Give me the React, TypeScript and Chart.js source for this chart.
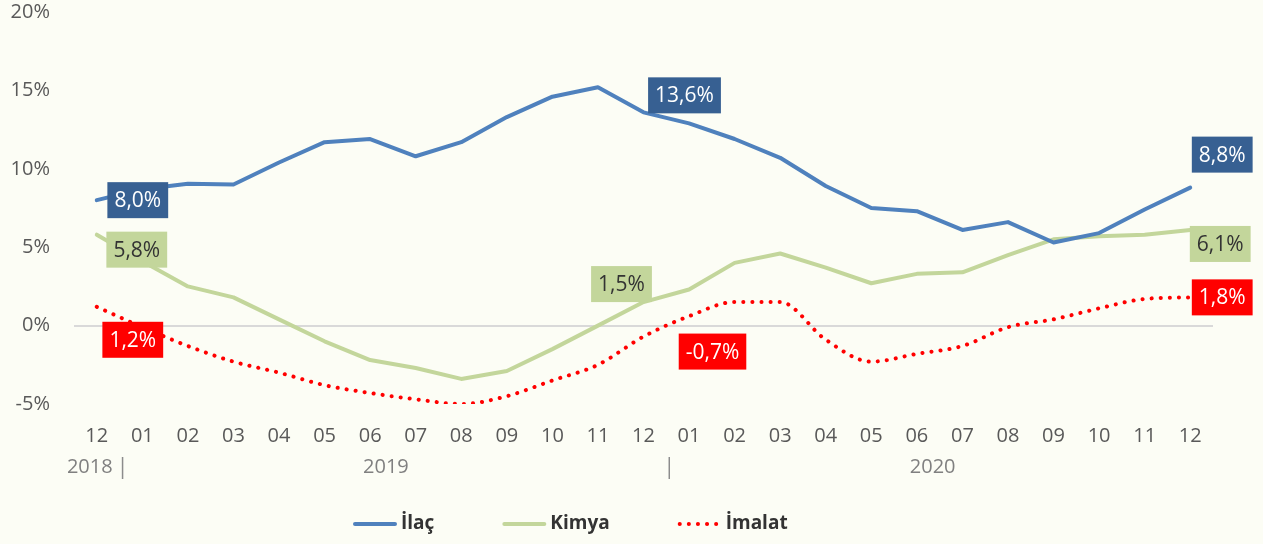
import React, { useEffect, useRef } from "react";
import { Chart, registerables } from "chart.js";

Chart.register(...registerables);

const months = ["12", "01", "02", "03", "04", "05", "06", "07", "08", "09", "10", "11", "12", "01", "02", "03", "04", "05", "06", "07", "08", "09", "10", "11", "12"];
const years = [
  { label: "2018", from: 0, to: 0 },
  { label: "2019", from: 1, to: 12 },
  { label: "2020", from: 13, to: 24 },
];
const ilac = [8.0, 8.7, 9.05, 9.0, 10.4, 11.7, 11.9, 10.8, 11.7, 13.3, 14.6, 15.2, 13.6, 12.9, 11.9, 10.7, 8.9, 7.5, 7.3, 6.1, 6.6, 5.3, 5.9, 7.4, 8.8];
const kimya = [5.8, 4.1, 2.5, 1.8, 0.4, -1.0, -2.2, -2.7, -3.4, -2.9, -1.5, 0.0, 1.5, 2.3, 4.0, 4.6, 3.7, 2.7, 3.3, 3.4, 4.5, 5.5, 5.7, 5.8, 6.1];
const imalat = [1.2, -0.1, -1.3, -2.3, -3.0, -3.8, -4.3, -4.7, -5.0, -4.5, -3.5, -2.5, -0.7, 0.6, 1.5, 1.5, -0.9, -2.3, -1.8, -1.3, -0.1, 0.4, 1.1, 1.7, 1.8];
const yTicks = [-5, 0, 5, 10, 15, 20];

const BG = "#FCFDF5";
const BLUE = "#4F81BD";
const BLUE_BOX = "#376092";
const GREEN = "#C3D69B";
const RED = "#FF0000";
const FONT = "'Open Sans', 'Noto Sans', sans-serif";

// label annotations: dataset index, point index, offset from point, box/text colours
const labelSpecs = [
  { ds: 0, i: 0, dx: 41, dy: 0, bg: BLUE_BOX, fg: "#FFFFFF" },
  { ds: 1, i: 0, dx: 40, dy: 15, bg: GREEN, fg: "#333333" },
  { ds: 2, i: 0, dx: 36, dy: 33, bg: RED, fg: "#FFFFFF" },
  { ds: 0, i: 12, dx: 41, dy: -17, bg: BLUE_BOX, fg: "#FFFFFF" },
  { ds: 1, i: 12, dx: -22, dy: -18, bg: GREEN, fg: "#333333" },
  { ds: 2, i: 12, dx: 69, dy: 15, bg: RED, fg: "#FFFFFF" },
  { ds: 0, i: 24, dx: 32, dy: -33, bg: BLUE_BOX, fg: "#FFFFFF" },
  { ds: 1, i: 24, dx: 30, dy: 14, bg: GREEN, fg: "#333333" },
  { ds: 2, i: 24, dx: 32, dy: 0, bg: RED, fg: "#FFFFFF" },
];

const fmt = (v: number) => v.toFixed(1).replace(".", ",") + "%";

const overlayPlugin = {
  id: "overlay",
  afterDatasetsDraw(chart: any) {
    const ctx = chart.ctx;
    ctx.save();
    ctx.font = `21px ${FONT}`;
    ctx.textAlign = "center";
    ctx.textBaseline = "middle";
    labelSpecs.forEach((s) => {
      const el = chart.getDatasetMeta(s.ds).data[s.i];
      const v = chart.data.datasets[s.ds].data[s.i];
      const txt = fmt(v);
      const w = ctx.measureText(txt).width + 14;
      const h = 36;
      const cx = el.x + s.dx;
      const cy = el.y + s.dy;
      ctx.fillStyle = s.bg;
      ctx.fillRect(cx - w / 2, cy - h / 2, w, h);
      ctx.fillStyle = s.fg;
      ctx.fillText(txt, cx, cy + 1);
    });
    ctx.restore();
  },
  afterDraw(chart: any) {
    const ctx = chart.ctx;
    const xs = chart.scales.x;
    ctx.save();
    // year labels and group separators
    ctx.font = `20px ${FONT}`;
    ctx.fillStyle = "#808080";
    ctx.textAlign = "center";
    ctx.textBaseline = "middle";
    years.forEach((g) => {
      const a = xs.getPixelForValue(g.from);
      const b = xs.getPixelForValue(g.to);
      ctx.fillText(g.label, (a + b) / 2 - 7, 467);
    });
    ctx.strokeStyle = "#8C8C8C";
    ctx.lineWidth = 1.5;
    [0, 12].forEach((i) => {
      const x = (xs.getPixelForValue(i) + xs.getPixelForValue(i + 1)) / 2 + 3;
      ctx.beginPath();
      ctx.moveTo(x, 457);
      ctx.lineTo(x, 479);
      ctx.stroke();
    });
    // legend
    const items = chart.data.datasets;
    ctx.font = `bold 19px ${FONT}`;
    ctx.textAlign = "left";
    let x = 353;
    const y = 524;
    items.forEach((d: any) => {
      ctx.beginPath();
      ctx.strokeStyle = d.borderColor;
      ctx.lineWidth = d.borderWidth;
      ctx.lineCap = "round";
      ctx.setLineDash(d.borderDash || []);
      ctx.moveTo(x + 2, y);
      ctx.lineTo(x + 42, y);
      ctx.stroke();
      ctx.setLineDash([]);
      ctx.fillStyle = "#333333";
      ctx.fillText(d.label, x + 48, y);
      x += 48 + ctx.measureText(d.label).width + 68;
    });
    ctx.restore();
  },
};

export default function App() {
  const ref = useRef<HTMLCanvasElement | null>(null);
  useEffect(() => {
    document.body.style.margin = "0";
    document.body.style.background = BG;
    const chart = new Chart(ref.current as HTMLCanvasElement, {
      type: "line",
      data: {
        labels: months,
        datasets: [
          { label: "İlaç", data: ilac, borderColor: BLUE, borderWidth: 4, pointRadius: 0, tension: 0, borderCapStyle: "round", borderJoinStyle: "round" },
          { label: "Kimya", data: kimya, borderColor: GREEN, borderWidth: 4, pointRadius: 0, tension: 0, borderCapStyle: "round", borderJoinStyle: "round" },
          { label: "İmalat", data: imalat, borderColor: RED, borderWidth: 4, pointRadius: 0, cubicInterpolationMode: "monotone", borderDash: [0.1, 9], borderCapStyle: "round" },
        ] as any,
      },
      options: {
        animation: false,
        responsive: false,
        maintainAspectRatio: false,
        layout: { padding: { top: 12, left: 0, right: 50, bottom: 0 } },
        plugins: { legend: { display: false }, tooltip: { enabled: false } },
        scales: {
          x: {
            offset: true,
            grid: { display: false, drawTicks: false },
            border: { display: false },
            ticks: { color: "#595959", font: { family: FONT, size: 20 }, padding: 20, maxRotation: 0, autoSkip: false },
            afterFit: (s: any) => { s.height = 140; s.paddingLeft = 0; s.paddingRight = 0; },
          },
          y: {
            min: -5,
            max: 20,
            afterBuildTicks: (s: any) => { s.ticks = yTicks.map((v) => ({ value: v })); },
            grid: {
              drawTicks: false,
              color: (c: any) => (c.tick && c.tick.value === 0 ? "#D9D9D9" : "rgba(0,0,0,0)"),
              lineWidth: 2,
            },
            border: { display: false },
            ticks: { color: "#595959", font: { family: FONT, size: 20 }, padding: 24, callback: (v: any) => v + "%" },
            afterFit: (s: any) => { s.width = 74; s.paddingTop = 0; s.paddingBottom = 0; },
          },
        },
      },
      plugins: [overlayPlugin],
    });
    return () => chart.destroy();
  }, []);
  return (
    <div style={{ width: 1263, height: 544, background: BG }}>
      <canvas ref={ref} width={1263} height={544} style={{ display: "block" }} />
    </div>
  );
}
